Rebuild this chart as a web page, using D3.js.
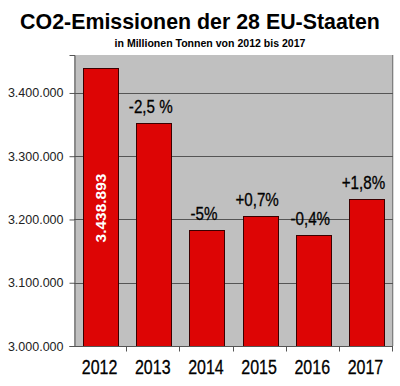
<!DOCTYPE html>
<meta charset='utf-8'>
<style>
  body { margin:0; background:#fff; }
  text { font-family:'Liberation Sans',Arial,sans-serif; }
  .grid line { stroke:#555; stroke-width:1px; }
</style>
<body>
  <script src='https://d3js.org/d3.v7.min.js' charset='utf-8'></script>
  <script>

    var years = ['2012', '2013', '2014', '2015', '2016', '2017'];
    var emissions = [3438893, 3352000, 3183500, 3205500, 3175500, 3232000];
    var changes = ['', '-2,5 %', '-5%', '+0,7%', '-0,4%', '+1,8%'];
    var yTicks = [3000000, 3100000, 3200000, 3300000, 3400000];

    var width = 400;
    var height = 386;
    var plotLeft = 74, plotRight = 393, plotTop = 55, plotBottom = 346;
    var narrow = 0.82; // squeeze for the Arial Narrow look

    var de = d3.formatLocale({decimal:',', thousands:'.', grouping:[3], currency:['','€']});
    var fmt = de.format(',d');

    var svg = d3.select('body').append('svg')
      .attr('width', width)
      .attr('height', height);

    var x = d3.scaleBand()
      .domain(years)
      .range([plotLeft, plotRight])
      .paddingInner(0.342)
      .paddingOuter(0.171);

    var y = d3.scaleLinear()
      .domain([3000000, 3460000])
      .range([plotBottom, plotTop]);

    // plot background
    svg.append('rect')
      .attr('x', plotLeft)
      .attr('y', plotTop)
      .attr('width', plotRight - plotLeft)
      .attr('height', plotBottom - plotTop)
      .attr('fill', '#c0c0c0');

    // right edge
    svg.append('line')
      .attr('x1', plotRight - 0.5).attr('x2', plotRight - 0.5)
      .attr('y1', plotTop).attr('y2', plotBottom)
      .attr('stroke', '#808080');
    svg.append('line')
      .attr('x1', plotRight + 0.5).attr('x2', plotRight + 0.5)
      .attr('y1', plotTop).attr('y2', plotBottom)
      .attr('stroke', '#d8d8d8');

    // gridlines
    svg.append('g')
      .attr('class', 'grid')
      .selectAll('line')
      .data(yTicks.slice(1))
      .enter().append('line')
      .attr('x1', plotLeft).attr('x2', plotRight)
      .attr('y1', d => Math.round(y(d)) + 0.5)
      .attr('y2', d => Math.round(y(d)) + 0.5);

    // bars
    svg.selectAll('.bar')
      .data(emissions)
      .enter().append('rect')
      .attr('class', 'bar')
      .attr('x', (d, i) => Math.round(x(years[i])) + 0.5)
      .attr('y', d => Math.round(y(d)) + 0.5)
      .attr('width', Math.round(x.bandwidth()))
      .attr('height', d => plotBottom - Math.round(y(d)))
      .attr('fill', '#dd0505')
      .attr('stroke', '#3a0000')
      .attr('stroke-width', 1);

    // y axis
    var yAxis = svg.append('g')
      .attr('transform', 'translate(' + (plotLeft + 0.5) + ',0)')
      .call(d3.axisLeft(y).tickValues(yTicks).tickFormat(fmt).tickSize(5).tickPadding(6));
    yAxis.select('.domain').attr('stroke', '#555');
    yAxis.selectAll('.tick line').attr('stroke', '#555');
    yAxis.selectAll('.tick text')
      .attr('font-size', '12.5px')
      .attr('font-family', 'Liberation Sans, Arial, sans-serif')
      .attr('fill', '#222');

    // x axis with ticks between categories
    var xAxis = svg.append('g')
      .attr('transform', 'translate(0,' + (plotBottom + 0.5) + ')');
    xAxis.append('line')
      .attr('x1', plotLeft).attr('x2', plotRight)
      .attr('stroke', '#555');
    xAxis.selectAll('.xt')
      .data(years)
      .enter().append('line')
      .attr('class', 'xt')
      .attr('x1', (d, i) => Math.round(plotLeft + x.step() * (i + 1)) - 0.5)
      .attr('x2', (d, i) => Math.round(plotLeft + x.step() * (i + 1)) - 0.5)
      .attr('y1', 0).attr('y2', 5)
      .attr('stroke', '#555');
    xAxis.selectAll('.yl')
      .data(years)
      .enter().append('text')
      .attr('transform', d => 'translate(' + (x(d) + x.bandwidth() / 2 - 1) + ',27) scale(' + narrow + ',1)')
      .attr('text-anchor', 'middle')
      .attr('font-size', '19.5px')
      .attr('fill', '#000')
      .attr('stroke', '#000')
      .attr('stroke-width', 0.3)
      .text(d => d);

    // change labels
    svg.selectAll('.chg')
      .data(changes)
      .enter().append('text')
      .attr('transform', (d, i) => 'translate(' + (x(years[i]) + x.bandwidth() / 2 - 3) + ',' + (y(emissions[i]) - 10) + ') scale(' + narrow + ',1)')
      .attr('text-anchor', 'middle')
      .attr('font-size', '18.5px')
      .attr('fill', '#000')
      .attr('stroke', '#000')
      .attr('stroke-width', 0.3)
      .text(d => d);

    // value in first bar
    var cx = x(years[0]) + x.bandwidth() / 2;
    svg.append('text')
      .attr('transform', 'translate(' + (cx + 5) + ',208) rotate(-90)')
      .attr('text-anchor', 'middle')
      .attr('font-weight', 'bold')
      .attr('font-size', '15.5px')
      .attr('fill', '#fff')
      .text(fmt(emissions[0]));

    // titles
    svg.append('text')
      .attr('transform', 'translate(200,29) scale(0.95,1)')
      .attr('text-anchor', 'middle')
      .attr('font-weight', 'bold')
      .attr('font-size', '22.5px')
      .text('CO2-Emissionen der 28 EU-Staaten');

    svg.append('text')
      .attr('transform', 'translate(210,47) scale(0.96,1)')
      .attr('text-anchor', 'middle')
      .attr('font-weight', 'bold')
      .attr('font-size', '11px')
      .text('in Millionen Tonnen von 2012 bis 2017');
  </script>
</body>
